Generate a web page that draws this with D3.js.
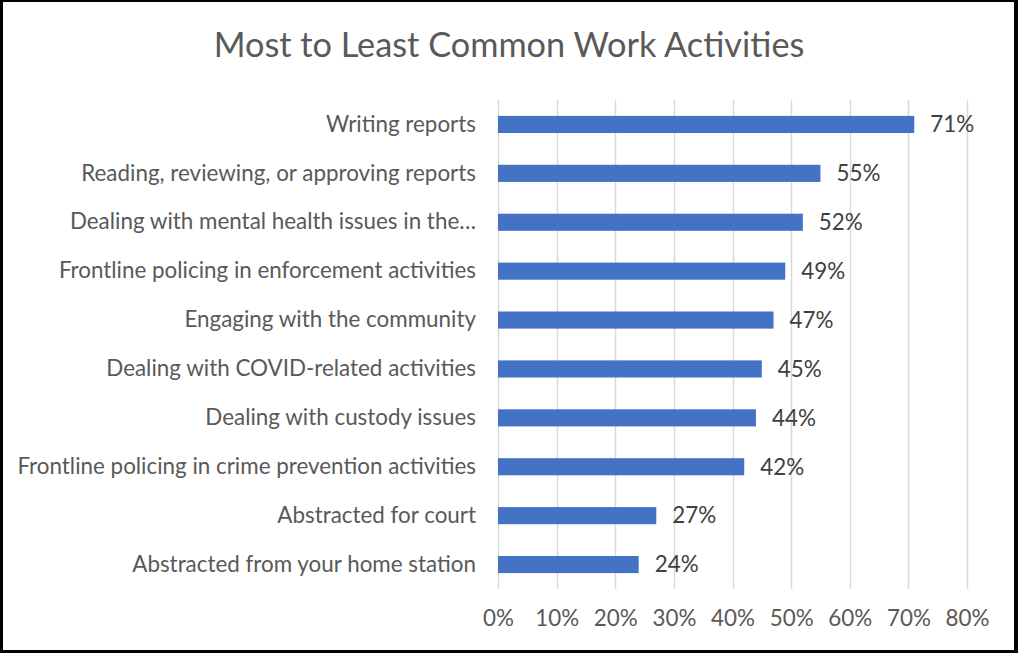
<!DOCTYPE html>
<html>
<head>
<meta charset="utf-8">
<script src="https://cdn.jsdelivr.net/npm/d3@7"></script>
<style>
  html, body { margin: 0; padding: 0; background: #fff; }
  svg { display: block; }
</style>
</head>
<body>
<svg id="chart" width="1018" height="653"></svg>
<script>
// Survey results: share of respondents reporting each work activity
const categories = [
  "Writing reports",
  "Reading, reviewing, or approving reports",
  "Dealing with mental health issues in the\u2026",
  "Frontline policing in enforcement activities",
  "Engaging with the community",
  "Dealing with COVID-related activities",
  "Dealing with custody issues",
  "Frontline policing in crime prevention activities",
  "Abstracted for court",
  "Abstracted from your home station"
];
const values = [71, 55, 52, 49, 47, 45, 44, 42, 27, 24];
const xTicks = [0, 10, 20, 30, 40, 50, 60, 70, 80];
const title = "Most to Least Common Work Activities";

const W = 1018, H = 653;
const FONT = "Lato, 'Open Sans', sans-serif";
const TEXT = "#595959";
const BAR = "#4472C4";
const GRID = "#D9D9D9";
const LABEL_SIZE = 22.4;

const svg = d3.select("#chart");

// plot area
const plot = { left: 498, right: 967, top: 100, bottom: 589 };

const x = d3.scaleLinear().domain([0, 80]).range([plot.left, plot.right]);
const y = d3.scaleBand().domain(categories).range([plot.top, plot.bottom]).paddingInner(0.65).paddingOuter(0.325);

// title
svg.append("text")
  .attr("x", W / 2).attr("y", 57)
  .attr("text-anchor", "middle")
  .attr("font-family", FONT).attr("font-size", 34.3)
  .attr("fill", TEXT)
  .text(title);

// vertical gridlines
svg.append("g").selectAll("line")
  .data(xTicks)
  .join("line")
  .attr("x1", d => Math.round(x(d)) + 0.5).attr("x2", d => Math.round(x(d)) + 0.5)
  .attr("y1", plot.top).attr("y2", plot.bottom)
  .attr("stroke", GRID).attr("stroke-width", 1.5);

// x axis labels
const xAxis = d3.axisBottom(x).tickValues(xTicks).tickFormat(d => d + "%").tickSize(0).tickPadding(0);
const gx = svg.append("g").attr("transform", `translate(0, ${plot.bottom + 21})`).call(xAxis);
gx.select(".domain").remove();
gx.selectAll("text")
  .attr("font-family", FONT).attr("font-size", LABEL_SIZE).attr("fill", TEXT)
  .attr("dy", "0.71em");

// category labels
const yAxis = d3.axisLeft(y).tickSize(0).tickPadding(0);
const gy = svg.append("g").attr("transform", `translate(${plot.left - 22}, 0)`).call(yAxis);
gy.select(".domain").remove();
gy.selectAll("text")
  .attr("font-family", FONT).attr("font-size", LABEL_SIZE).attr("fill", TEXT);

// bars
svg.append("g").selectAll("rect")
  .data(values)
  .join("rect")
  .attr("x", x(0))
  .attr("y", (d, i) => y(categories[i]))
  .attr("width", d => x(d) - x(0))
  .attr("height", y.bandwidth())
  .attr("fill", BAR);

// value labels
svg.append("g").selectAll("text")
  .data(values)
  .join("text")
  .attr("x", d => x(d) + 16)
  .attr("y", (d, i) => y(categories[i]) + y.bandwidth() / 2)
  .attr("dy", "0.35em")
  .attr("font-family", FONT).attr("font-size", LABEL_SIZE)
  .attr("fill", "#404040")
  .text(d => d + "%");

// outer frame
const frame = svg.append("g").attr("fill", "#000");
frame.append("rect").attr("x", 0).attr("y", 0).attr("width", W).attr("height", 2);
frame.append("rect").attr("x", 0).attr("y", H - 3).attr("width", W).attr("height", 3);
frame.append("rect").attr("x", 0).attr("y", 0).attr("width", 3).attr("height", H);
frame.append("rect").attr("x", W - 4).attr("y", 0).attr("width", 4).attr("height", H);
</script>
</body>
</html>
